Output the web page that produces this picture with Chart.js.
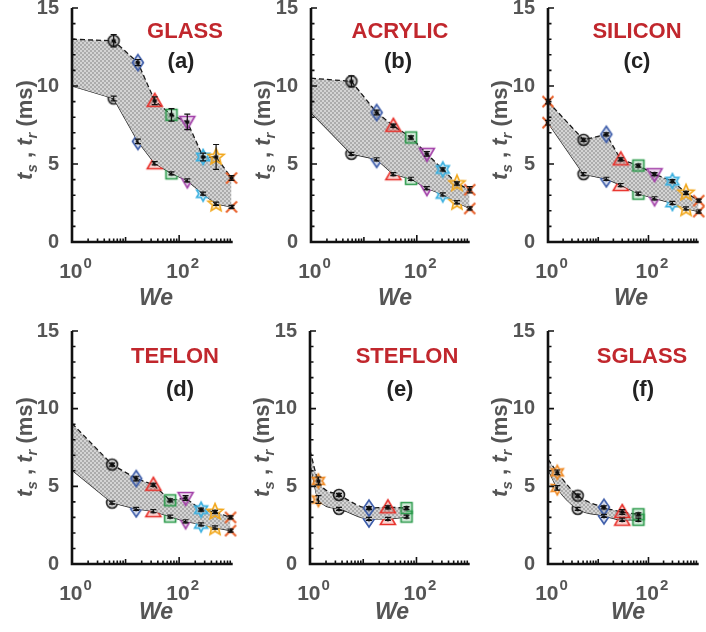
<!DOCTYPE html>
<html lang="en">
<head>
<meta charset="UTF-8">
<title>Spreading and retraction times vs We</title>
<script src="https://cdn.jsdelivr.net/npm/chart.js"></script>
<style>
  body { margin: 0; background: #fff; font-family: 'Liberation Sans', Arial, sans-serif; }
  #wrap { position: relative; width: 706px; height: 632px; overflow: hidden; }
  canvas { position: absolute; }
  .lbl { position: absolute; transform: translate(-50%, -50%); white-space: nowrap; font-weight: bold; line-height: 1; }
  .mat { color: #c1272d; font-size: 22px; }
  .tag { color: #222; font-size: 22px; }
  .xlab { color: #555; font-size: 23px; font-style: italic; }
  .ylab { color: #555; font-size: 22px; transform: translate(-50%, -50%) rotate(-90deg); }
  .ylab sub { font-size: 15px; font-style: italic; vertical-align: -5px; }
</style>
</head>
<body>
<div id="wrap">
  <canvas id="cA" width="240" height="300" style="left:0;top:0"></canvas>
  <canvas id="cB" width="237" height="300" style="left:240px;top:0"></canvas>
  <canvas id="cC" width="229" height="300" style="left:477px;top:0"></canvas>
  <canvas id="cD" width="240" height="300" style="left:0;top:318px"></canvas>
  <canvas id="cE" width="237" height="300" style="left:240px;top:318px"></canvas>
  <canvas id="cF" width="229" height="300" style="left:477px;top:318px"></canvas>

  <div class="lbl mat" style="left:185px;top:31px">GLASS</div>
  <div class="lbl tag" style="left:181px;top:61px">(a)</div>
  <div class="lbl mat" style="left:400px;top:31px">ACRYLIC</div>
  <div class="lbl tag" style="left:398px;top:61px">(b)</div>
  <div class="lbl mat" style="left:637px;top:31px">SILICON</div>
  <div class="lbl tag" style="left:637px;top:61px">(c)</div>
  <div class="lbl mat" style="left:175px;top:356px">TEFLON</div>
  <div class="lbl tag" style="left:180px;top:389px">(d)</div>
  <div class="lbl mat" style="left:407px;top:356px">STEFLON</div>
  <div class="lbl tag" style="left:400px;top:389px">(e)</div>
  <div class="lbl mat" style="left:642px;top:356px">SGLASS</div>
  <div class="lbl tag" style="left:643px;top:389px">(f)</div>

  <div class="lbl ylab" style="left:26px;top:130px"><i>t</i><sub>s</sub> , <i>t</i><sub>r</sub> (ms)</div>
  <div class="lbl ylab" style="left:264px;top:130px"><i>t</i><sub>s</sub> , <i>t</i><sub>r</sub> (ms)</div>
  <div class="lbl ylab" style="left:501px;top:130px"><i>t</i><sub>s</sub> , <i>t</i><sub>r</sub> (ms)</div>
  <div class="lbl ylab" style="left:26px;top:447px"><i>t</i><sub>s</sub> , <i>t</i><sub>r</sub> (ms)</div>
  <div class="lbl ylab" style="left:263px;top:447px"><i>t</i><sub>s</sub> , <i>t</i><sub>r</sub> (ms)</div>
  <div class="lbl ylab" style="left:501px;top:447px"><i>t</i><sub>s</sub> , <i>t</i><sub>r</sub> (ms)</div>

  <div class="lbl xlab" style="left:156px;top:297px">We</div>
  <div class="lbl xlab" style="left:395px;top:297px">We</div>
  <div class="lbl xlab" style="left:631px;top:297px">We</div>
  <div class="lbl xlab" style="left:156px;top:611px">We</div>
  <div class="lbl xlab" style="left:392px;top:611px">We</div>
  <div class="lbl xlab" style="left:628px;top:611px">We</div>
</div>

<script>
// ---- data ----
// ts = upper dashed curve, tr = lower solid curve, in ms
const weGlass = [1, 6, 17, 35, 72, 142, 280, 490, 950];
const tsGlass = [13.0, 12.9, 11.5, 9.05, 8.15, 7.7, 5.45, 5.45, 4.1];
const trGlass = [10.0, 9.2, 6.45, 5.05, 4.4, 3.95, 3.1, 2.45, 2.25];
const tsErrGlass = [0, 0.4, 0.2, 0.25, 0.4, 0.5, 0.25, 0.8, 0.15];
const trErrGlass = [0, 0.15, 0.15, 0.1, 0.1, 0.1, 0.1, 0.1, 0.1];

const weAcrylic = [1, 5.8, 17.4, 36, 78, 155, 310, 575, 1000];
const tsAcrylic = [10.5, 10.3, 8.3, 7.45, 6.7, 5.65, 4.65, 3.75, 3.35];
const trAcrylic = [8.3, 5.65, 5.3, 4.35, 4.05, 3.45, 3.05, 2.55, 2.15];
const tsErrAcrylic = [0, 0.35, 0.15, 0.1, 0.1, 0.15, 0.1, 0.1, 0.2];
const trErrAcrylic = [0, 0.1, 0.1, 0.1, 0.1, 0.1, 0.1, 0.1, 0.1];

const weSilicon = [1, 5.1, 14.5, 28, 63, 132, 300, 560, 1000];
const tsSilicon = [9.0, 6.55, 6.9, 5.3, 4.9, 4.35, 3.9, 3.15, 2.65];
const trSilicon = [7.65, 4.35, 4.05, 3.65, 3.1, 2.8, 2.5, 2.15, 1.95];
const tsErrSilicon = [0.15, 0.1, 0.1, 0.1, 0.1, 0.1, 0.1, 0.1, 0.1];
const trErrSilicon = [0.15, 0.1, 0.1, 0.1, 0.1, 0.1, 0.1, 0.1, 0.1];

const weTeflon = [1, 5.6, 15.8, 33, 68, 132, 257, 468, 912];
const tsTeflon = [9.05, 6.4, 5.5, 5.1, 4.1, 4.25, 3.5, 3.35, 3.0];
const trTeflon = [6.05, 3.95, 3.55, 3.4, 3.05, 2.75, 2.55, 2.35, 2.15];
const tsErrTeflon = [0, 0.1, 0.15, 0.1, 0.1, 0.15, 0.1, 0.1, 0.1];
const trErrTeflon = [0, 0.1, 0.1, 0.1, 0.1, 0.1, 0.1, 0.1, 0.1];

const weSteflon = [1, 1.44, 3.5, 12.8, 29, 65];
const tsSteflon = [7.3, 5.35, 4.45, 3.6, 3.65, 3.6];
const trSteflon = [6.6, 4.15, 3.55, 2.9, 2.9, 3.05];
const tsErrSteflon = [0, 0.25, 0.1, 0.1, 0.1, 0.1];
const trErrSteflon = [0, 0.25, 0.1, 0.1, 0.1, 0.1];

const weSglass = [1, 1.53, 3.9, 13, 30, 63];
const tsSglass = [6.75, 5.9, 4.4, 3.65, 3.35, 3.2];
const trSglass = [6.1, 4.9, 3.55, 3.1, 2.85, 2.85];
const tsErrSglass = [0, 0.15, 0.1, 0.1, 0.15, 0.1];
const trErrSglass = [0, 0.15, 0.1, 0.1, 0.1, 0.1];

// axis ticks
const yTickVals = [0, 1, 2, 3, 4, 5, 6, 7, 8, 9, 10, 11, 12, 13, 14, 15];
const xTickVals = [2, 3, 4, 5, 6, 7, 8, 9, 10, 20, 30, 40, 50, 60, 70, 80, 90, 100, 200, 300, 400, 500, 600, 700, 800, 900];
const xLabelPowers = [0, 2];

// marker sequence per panel
const markersLong = ['none', 'circle', 'diamond', 'tri', 'square', 'tridown', 'hex', 'pent', 'x'];
const markersSilicon = ['x', 'circle', 'diamond', 'tri', 'square', 'tridown', 'hex', 'pent', 'x'];
const markersShort = ['none', 'star', 'circle', 'diamond', 'tri', 'square'];

const markerColors = {
  circle: '#222222', diamond: '#3b5ba9', tri: '#e8302a', square: '#2a9a4a',
  tridown: '#a23fa8', hex: '#3ab0e0', pent: '#f2a81d', x: '#e8602a', star: '#f08a24'
};

function rgba(hex, a) {
  const n = parseInt(hex.slice(1), 16);
  return 'rgba(' + (n >> 16) + ',' + ((n >> 8) & 255) + ',' + (n & 255) + ',' + a + ')';
}

function starPath(g, m, n, ro, ri) {
  for (let k = 0; k < 2 * n; k++) {
    const r = k % 2 ? ri : ro;
    const a = k * Math.PI / n;
    const px = m + r * Math.sin(a), py = m - r * Math.cos(a);
    if (k) g.lineTo(px, py); else g.moveTo(px, py);
  }
  g.closePath();
}

const markerCache = {};
function makeMarker(shape) {
  if (markerCache[shape]) return markerCache[shape];
  const s = 22, m = 11;
  const c = document.createElement('canvas');
  c.width = s; c.height = s;
  const g = c.getContext('2d');
  const col = markerColors[shape];
  g.strokeStyle = col;
  g.fillStyle = rgba(col, 0.2);
  g.lineWidth = 1.6;
  g.beginPath();
  if (shape === 'circle') g.arc(m, m, 5.5, 0, 2 * Math.PI);
  else if (shape === 'diamond') { g.moveTo(m, m - 8); g.lineTo(m + 5.5, m); g.lineTo(m, m + 8); g.lineTo(m - 5.5, m); g.closePath(); }
  else if (shape === 'tri') { g.moveTo(m, m - 7.5); g.lineTo(m + 7.5, m + 5.5); g.lineTo(m - 7.5, m + 5.5); g.closePath(); }
  else if (shape === 'tridown') { g.moveTo(m, m + 7.5); g.lineTo(m + 7.5, m - 5.5); g.lineTo(m - 7.5, m - 5.5); g.closePath(); }
  else if (shape === 'square') g.rect(m - 5.5, m - 5.5, 11, 11);
  else if (shape === 'hex') starPath(g, m, 6, 7.5, 4.2);
  else if (shape === 'pent') starPath(g, m, 5, 8.5, 3.8);
  else if (shape === 'star') starPath(g, m, 6, 7, 3.8);
  else if (shape === 'x') {
    g.lineWidth = 2;
    g.moveTo(m - 5.5, m - 5.5); g.lineTo(m + 5.5, m + 5.5);
    g.moveTo(m + 5.5, m - 5.5); g.lineTo(m - 5.5, m + 5.5);
  }
  if (shape !== 'x') g.fill();
  g.stroke();
  // small black centre mark
  g.strokeStyle = '#000';
  g.lineWidth = 1.2;
  g.beginPath();
  for (let k = 0; k < 3; k++) {
    const a = k * Math.PI / 3;
    g.moveTo(m - 2.6 * Math.sin(a), m - 2.6 * Math.cos(a));
    g.lineTo(m + 2.6 * Math.sin(a), m + 2.6 * Math.cos(a));
  }
  g.stroke();
  markerCache[shape] = c;
  return c;
}

// fine grey checker used between the two curves
function makePattern() {
  const p = document.createElement('canvas');
  p.width = 4; p.height = 4;
  const g = p.getContext('2d');
  g.fillStyle = '#d4d4d4';
  g.fillRect(0, 0, 4, 4);
  g.fillStyle = '#acacac';
  g.fillRect(0, 0, 2, 2);
  g.fillRect(2, 2, 2, 2);
  return g.createPattern(p, 'repeat');
}
const shade = makePattern();

// tick marks, axis lines, power-of-ten labels, error bars
const axisDecor = {
  id: 'axisDecor',
  afterDatasetsDraw(chart) {
    const ctx = chart.ctx, ys = chart.scales.y;
    ctx.save();
    ctx.strokeStyle = '#111';
    ctx.lineWidth = 1.2;
    chart.data.datasets.forEach((ds, i) => {
      const meta = chart.getDatasetMeta(i);
      ds.data.forEach((pt, j) => {
        const e = ds.errs ? ds.errs[j] : 0;
        if (!e || ds.pointRadius[j] === 0) return;
        const px = meta.data[j].x;
        const y1 = ys.getPixelForValue(pt.y + e), y2 = ys.getPixelForValue(pt.y - e);
        ctx.beginPath();
        ctx.moveTo(px, y1); ctx.lineTo(px, y2);
        ctx.moveTo(px - 3, y1); ctx.lineTo(px + 3, y1);
        ctx.moveTo(px - 3, y2); ctx.lineTo(px + 3, y2);
        ctx.stroke();
      });
    });
    ctx.restore();
  },
  afterDraw(chart) {
    const ctx = chart.ctx, a = chart.chartArea, xs = chart.scales.x, ys = chart.scales.y;
    ctx.save();
    ctx.strokeStyle = '#111';
    ctx.lineWidth = 1.6;
    ctx.beginPath();
    yTickVals.forEach(v => {
      const py = ys.getPixelForValue(v);
      const len = v % 5 === 0 ? 6 : 3.5;
      ctx.moveTo(a.left, py); ctx.lineTo(a.left + len, py);
    });
    xTickVals.forEach(v => {
      const px = xs.getPixelForValue(v);
      const len = v === 100 ? 7 : (v === 10 ? 5 : 3.5);
      ctx.moveTo(px, a.bottom); ctx.lineTo(px, a.bottom - len);
    });
    ctx.stroke();
    ctx.lineWidth = 2.6;
    ctx.beginPath();
    ctx.moveTo(a.left, a.top); ctx.lineTo(a.left, a.bottom); ctx.lineTo(a.right, a.bottom);
    ctx.stroke();
    ctx.fillStyle = '#555';
    ctx.textBaseline = 'alphabetic';
    xLabelPowers.forEach(p => {
      const px = xs.getPixelForValue(Math.pow(10, p));
      ctx.font = 'bold 21px "Liberation Sans", Arial, sans-serif';
      const wb = ctx.measureText('10').width;
      ctx.font = 'bold 15px "Liberation Sans", Arial, sans-serif';
      const we = ctx.measureText(String(p)).width;
      const x0 = px - (wb + we) / 2 + 3;
      const base = a.bottom + 36;
      ctx.font = 'bold 21px "Liberation Sans", Arial, sans-serif';
      ctx.fillText('10', x0, base);
      ctx.font = 'bold 15px "Liberation Sans", Arial, sans-serif';
      ctx.fillText(String(p), x0 + wb + 1, base - 10);
    });
    ctx.restore();
  }
};

function points(we, vals) {
  return we.map((w, i) => ({ x: w, y: vals[i] }));
}

function panel(id, area, we, ts, tr, tsErr, trErr, marks, smooth) {
  const cv = document.getElementById(id);
  const styles = marks.map(m => m === 'none' ? 'circle' : makeMarker(m));
  const radii = marks.map(m => m === 'none' ? 0 : 6);
  const common = {
    pointStyle: styles, pointRadius: radii, borderColor: '#1a1a1a', borderWidth: 1.3,
    tension: smooth ? 0.4 : 0, cubicInterpolationMode: smooth ? 'monotone' : 'default', clip: false
  };
  new Chart(cv, {
    type: 'line',
    data: {
      datasets: [
        Object.assign({ label: 'ts', data: points(we, ts), borderDash: [5, 3], fill: '+1', backgroundColor: shade, errs: tsErr }, common),
        Object.assign({ label: 'tr', data: points(we, tr), fill: false, errs: trErr }, common)
      ]
    },
    options: {
      responsive: false, animation: false, events: [],
      layout: { padding: { left: 0, top: area.t, right: cv.width - area.r, bottom: 0 } },
      plugins: { legend: { display: false }, tooltip: { enabled: false } },
      scales: {
        x: {
          type: 'logarithmic', min: 1, max: 1000,
          grid: { display: false }, border: { display: false }, ticks: { display: false },
          afterFit: s => { s.height = cv.height - area.b; s.paddingLeft = 0; s.paddingRight = 0; }
        },
        y: {
          min: 0, max: 15,
          grid: { display: false }, border: { display: false },
          afterBuildTicks: s => { s.ticks = yTickVals.map(v => ({ value: v })); },
          ticks: {
            autoSkip: false, padding: 5, color: '#555',
            font: { family: '"Liberation Sans", Arial, sans-serif', size: 20, weight: 'bold' },
            callback: v => v % 5 === 0 ? String(v) : ''
          },
          afterFit: s => { s.width = area.l; s.paddingTop = 0; s.paddingBottom = 0; }
        }
      }
    },
    plugins: [axisDecor]
  });
}

panel('cA', { l: 72, r: 237, t: 8, b: 242 }, weGlass, tsGlass, trGlass, tsErrGlass, trErrGlass, markersLong, false);
panel('cB', { l: 71, r: 231, t: 8, b: 242 }, weAcrylic, tsAcrylic, trAcrylic, tsErrAcrylic, trErrAcrylic, markersLong, false);
panel('cC', { l: 71, r: 228, t: 8, b: 242 }, weSilicon, tsSilicon, trSilicon, tsErrSilicon, trErrSilicon, markersSilicon, false);
panel('cD', { l: 72, r: 237, t: 13, b: 246 }, weTeflon, tsTeflon, trTeflon, tsErrTeflon, trErrTeflon, markersLong, false);
panel('cE', { l: 70, r: 230, t: 13, b: 246 }, weSteflon, tsSteflon, trSteflon, tsErrSteflon, trErrSteflon, markersShort, true);
panel('cF', { l: 71, r: 229, t: 13, b: 246 }, weSglass, tsSglass, trSglass, tsErrSglass, trErrSglass, markersShort, true);
</script>
</body>
</html>
